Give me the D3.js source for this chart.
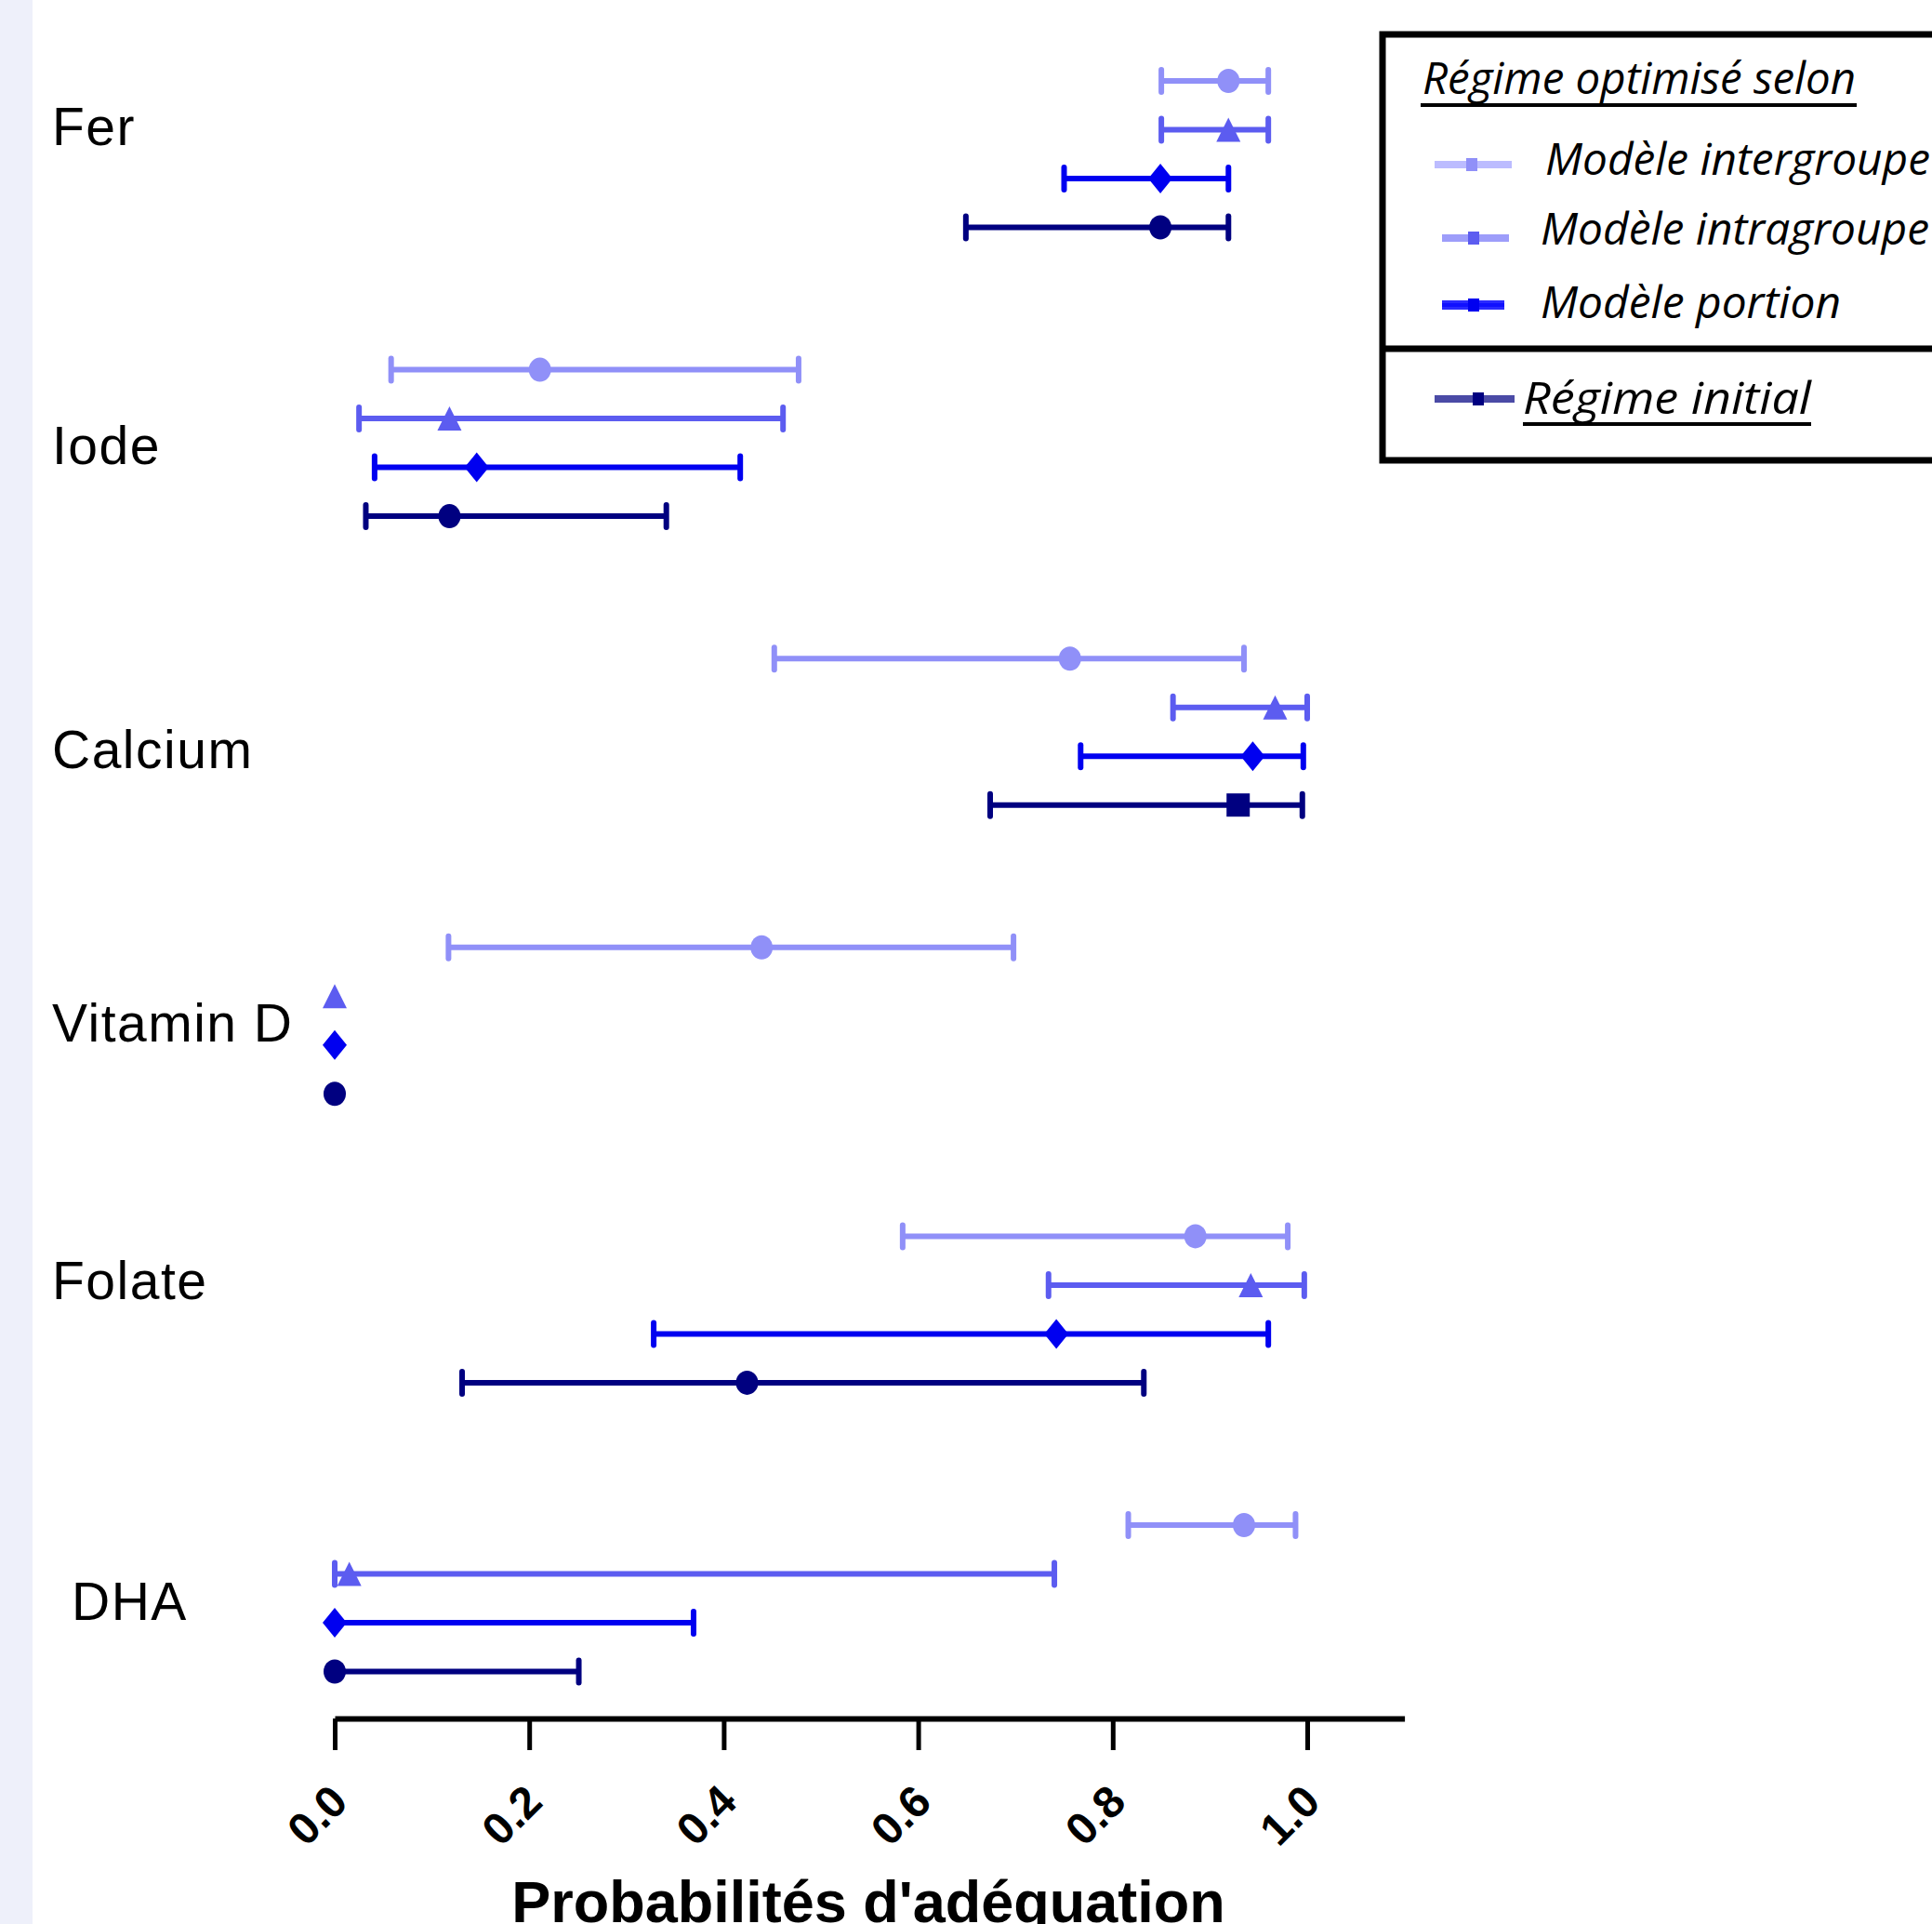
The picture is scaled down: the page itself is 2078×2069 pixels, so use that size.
<!DOCTYPE html>
<html>
<head>
<meta charset="utf-8">
<script src="https://cdn.jsdelivr.net/npm/d3@7"></script>
<style>
  body { margin: 0; background: #fff; }
  svg { display: block; }
</style>
</head>
<body>
<div id="chart"></div>
<script>
// categories (top to bottom) and series (top to bottom inside a category)
const categories = ["Fer", "Iode", "Calcium", "Vitamin D", "Folate", "DHA"];
const series = ["Modèle intergroupe", "Modèle intragroupe", "Modèle portion", "Régime initial"];

// point estimates and interval bounds, one value per category
const intergroupeMid = [0.919, 0.211, 0.756, 0.439, 0.885, 0.935];
const intergroupeLo  = [0.850, 0.058, 0.452, 0.117, 0.584, 0.816];
const intergroupeHi  = [0.960, 0.477, 0.935, 0.698, 0.980, 0.988];

const intragroupeMid = [0.919, 0.118, 0.967, 0.000, 0.942, 0.015];
const intragroupeLo  = [0.850, 0.025, 0.862, 0.000, 0.734, 0.000];
const intragroupeHi  = [0.960, 0.461, 1.000, 0.000, 0.997, 0.740];

const portionMid = [0.849, 0.146, 0.944, 0.000, 0.742, 0.000];
const portionLo  = [0.750, 0.041, 0.767, 0.000, 0.328, 0.000];
const portionHi  = [0.919, 0.417, 0.996, 0.000, 0.960, 0.369];

const initialMid = [0.849, 0.118, 0.929, 0.000, 0.424, 0.000];
const initialLo  = [0.649, 0.032, 0.674, 0.000, 0.131, 0.000];
const initialHi  = [0.919, 0.341, 0.995, 0.000, 0.832, 0.251];

const xTicks = [0, 0.2, 0.4, 0.6, 0.8, 1.0];
const xTitle = "Probabilités d'adéquation";
const legendTitle = "Régime optimisé selon";

// ---- styling
const colors = ["#9090f8", "#5c5cf0", "#0000f0", "#000080"];
const legendLine = ["#bcbcff", "#9d9dfa", "#2a2aff", "#4b4ba6"];
const shapes = ["circle", "triangle", "diamond", "circle"];
const labelDy = [69, 101, 118, 101, 68, 102];   // baseline below first row of group
const labelX = [56, 56, 56, 56, 56, 77];

const W = 2078, H = 2069;

const svg = d3.select("#chart").append("svg")
    .attr("width", W)
    .attr("height", H);

svg.append("rect").attr("width", W).attr("height", H).attr("fill", "#fff");
svg.append("rect").attr("width", 35).attr("height", H).attr("fill", "#eef0fa");

let x = d3.scaleLinear().domain([0, 1.1]).range([360, 1510.6]);
let yGroup = d3.scalePoint().domain(categories).range([87, 1640]);
let yRow = d3.scalePoint().domain(series).range([0, 157.5]);

let mids = [intergroupeMid, intragroupeMid, portionMid, initialMid];
let los = [intergroupeLo, intragroupeLo, portionLo, initialLo];
let his = [intergroupeHi, intragroupeHi, portionHi, initialHi];

let rows = [];
series.forEach(function(s, si) {
  categories.forEach(function(c, ci) {
    rows.push({cat: c, ser: s, si: si, mid: mids[si][ci], lo: los[si][ci], hi: his[si][ci]});
  });
});

function yOf(d) { return yGroup(d.cat) + yRow(d.ser); }

function shapePath(d) {
  let t = shapes[d.si];
  if (d.si === 3 && d.cat === "Calcium") t = "square";
  if (t === "triangle") return "M0,-13L13,13L-13,13Z";
  if (t === "diamond") return "M0,-16L13,0L0,16L-13,0Z";
  if (t === "square") return "M-12.5,-12.5L12.5,-12.5L12.5,12.5L-12.5,12.5Z";
  return "M-12,0A12,13,0,1,0,12,0A12,13,0,1,0,-12,0Z";
}

// category labels
svg.append("g").selectAll("text")
  .data(categories)
  .enter().append("text")
    .attr("x", function(d, i) { return labelX[i]; })
    .attr("y", function(d, i) { return yGroup(d) + labelDy[i]; })
    .attr("font-family", "'Liberation Sans', Arial, sans-serif")
    .attr("font-size", 57)
    .attr("letter-spacing", 1.5)
    .attr("fill", "#000")
    .text(function(d) { return d; });

let bars = rows.filter(function(d) { return d.hi > d.lo; });

// interval lines
svg.append("g").selectAll("line")
  .data(bars)
  .enter().append("line")
    .attr("x1", function(d) { return x(d.lo); })
    .attr("x2", function(d) { return x(d.hi); })
    .attr("y1", yOf)
    .attr("y2", yOf)
    .attr("stroke", function(d) { return colors[d.si]; })
    .attr("stroke-width", 6);

// caps (a cap hidden under its own marker is skipped)
let caps = [];
bars.forEach(function(d) {
  if (d.lo !== d.mid) caps.push({d: d, v: d.lo});
  caps.push({d: d, v: d.hi});
});
svg.append("g").selectAll("line")
  .data(caps)
  .enter().append("line")
    .attr("x1", function(c) { return x(c.v); })
    .attr("x2", function(c) { return x(c.v); })
    .attr("y1", function(c) { return yOf(c.d) - 12; })
    .attr("y2", function(c) { return yOf(c.d) + 12; })
    .attr("stroke", function(c) { return colors[c.d.si]; })
    .attr("stroke-width", 6)
    .attr("stroke-linecap", "round");

// markers
svg.append("g").selectAll("path")
  .data(rows)
  .enter().append("path")
    .attr("transform", function(d) { return "translate(" + x(d.mid) + "," + yOf(d) + ")"; })
    .attr("d", shapePath)
    .attr("fill", function(d) { return colors[d.si]; });

// x axis
let axisY = 1848;
let axis = svg.append("g")
  .attr("transform", "translate(0," + axisY + ")")
  .call(d3.axisBottom(x).tickValues(xTicks).tickSize(34).tickSizeOuter(0).tickFormat(d3.format(".1f")));
axis.select(".domain").attr("stroke", "#000").attr("stroke-width", 6);
axis.selectAll(".tick line").attr("stroke", "#000").attr("stroke-width", 5);
axis.selectAll(".tick text")
  .attr("font-family", "'Liberation Sans', Arial, sans-serif")
  .attr("font-weight", "bold")
  .attr("font-size", 48)
  .attr("fill", "#000")
  .attr("text-anchor", "end")
  .attr("dy", null)
  .attr("y", 0)
  .attr("transform", "translate(16,92) rotate(-45)");

svg.append("text")
  .attr("x", 934)
  .attr("y", 2067)
  .attr("text-anchor", "middle")
  .attr("font-family", "'Liberation Sans', Arial, sans-serif")
  .attr("font-weight", "bold")
  .attr("font-size", 63)
  .attr("fill", "#000")
  .text(xTitle);

// legend
let lg = svg.append("g");
lg.append("rect")
  .attr("x", 1487).attr("y", 37)
  .attr("width", 700).attr("height", 458)
  .attr("fill", "#fff")
  .attr("stroke", "#000").attr("stroke-width", 7);
lg.append("line")
  .attr("x1", 1487).attr("x2", 2100).attr("y1", 375).attr("y2", 375)
  .attr("stroke", "#000").attr("stroke-width", 7);

let legendFont = "'Open Sans', 'Noto Sans', sans-serif";
lg.append("text")
  .attr("x", 1530).attr("y", 101)
  .attr("font-family", legendFont)
  .attr("font-style", "italic")
  .attr("font-size", 48)
  .attr("textLength", 466)
  .attr("lengthAdjust", "spacingAndGlyphs")
  .text(legendTitle);
lg.append("line")
  .attr("x1", 1528).attr("x2", 1997).attr("y1", 113).attr("y2", 113)
  .attr("stroke", "#000").attr("stroke-width", 4);

let legRows = [
  {x1: 1543, x2: 1626, mx: 1583, y: 177, tx: 1662, ty: 188, tl: 414},
  {x1: 1551, x2: 1623, mx: 1585, y: 256, tx: 1657, ty: 263, tl: 418},
  {x1: 1551, x2: 1618, mx: 1585, y: 328, tx: 1657, ty: 342, tl: 323},
  {x1: 1543, x2: 1629, mx: 1590, y: 429, tx: 1638, ty: 445, tl: 310}
];
let le = lg.selectAll(".legend")
  .data(series)
  .enter().append("g")
    .attr("class", "legend");
le.append("line")
  .attr("x1", function(d, i) { return legRows[i].x1; })
  .attr("x2", function(d, i) { return legRows[i].x2; })
  .attr("y1", function(d, i) { return legRows[i].y; })
  .attr("y2", function(d, i) { return legRows[i].y; })
  .attr("stroke", function(d, i) { return legendLine[i]; })
  .attr("stroke-width", function(d, i) { return i === 2 ? 10 : 8; });
le.filter(function(d, i) { return i === 2; }).append("line")
  .attr("x1", legRows[2].x1).attr("x2", legRows[2].x2)
  .attr("y1", legRows[2].y).attr("y2", legRows[2].y)
  .attr("stroke", "#1010ff").attr("stroke-width", 4);
le.append("rect")
  .attr("x", function(d, i) { return legRows[i].mx - 6; })
  .attr("y", function(d, i) { return legRows[i].y - 7; })
  .attr("width", 12).attr("height", 14)
  .attr("fill", function(d, i) { return colors[i]; });
le.append("text")
  .attr("x", function(d, i) { return legRows[i].tx; })
  .attr("y", function(d, i) { return legRows[i].ty; })
  .attr("font-family", legendFont)
  .attr("font-style", "italic")
  .attr("font-size", 48)
  .attr("textLength", function(d, i) { return legRows[i].tl; })
  .attr("lengthAdjust", "spacingAndGlyphs")
  .attr("fill", "#000")
  .text(function(d) { return d; });
lg.append("line")
  .attr("x1", 1638).attr("x2", 1948).attr("y1", 456).attr("y2", 456)
  .attr("stroke", "#000").attr("stroke-width", 4);
</script>
</body>
</html>
